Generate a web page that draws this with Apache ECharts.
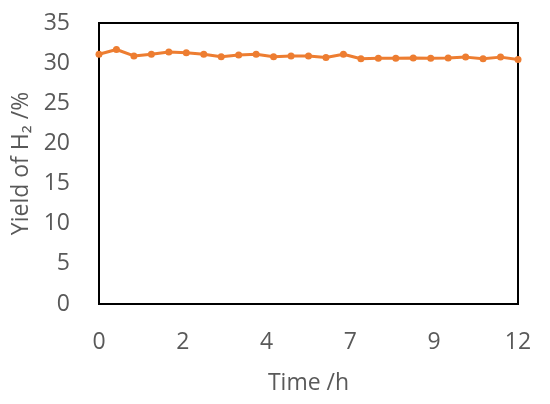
<!DOCTYPE html>
<html>
<head>
<meta charset="utf-8">
<script src="https://cdn.jsdelivr.net/npm/echarts@6/dist/echarts.min.js"></script>
<style>
  html, body { margin: 0; padding: 0; background: #fff; }
  #chart { width: 550px; height: 404px; }
</style>
</head>
<body>
<div id="chart"></div>
<script>
// time in hours, one point every half hour
const hours = [0, 0.5, 1, 1.5, 2, 2.5, 3, 3.5, 4, 4.5, 5, 5.5, 6, 6.5, 7, 7.5, 8, 8.5, 9, 9.5, 10, 10.5, 11, 11.5, 12]
const yieldH2 = [31.1, 31.7, 30.9, 31.1, 31.4, 31.3, 31.1, 30.8, 31.0, 31.1, 30.8, 30.9, 30.9, 30.7, 31.1,
  30.55, 30.6, 30.6, 30.65, 30.6, 30.65, 30.75, 30.55, 30.75, 30.45]
// x tick labels as printed (ticks every 2.4 h, shown without decimals)
const xTickLabels = ['0', '2', '4', '7', '9', '12']
const xTickStep = 2.4

const textColor = '#595959'
const font = '"Open Sans", sans-serif'

const chart = echarts.init(document.getElementById('chart'))
chart.setOption({
  animation: false,
  grid: {
    left: 99,
    right: 32,
    top: 23,
    bottom: 100,
    show: true,
    borderColor: '#000',
    borderWidth: 2
  },
  xAxis: {
    type: 'value',
    min: 0,
    max: 12,
    interval: xTickStep,
    name: 'Time /h',
    nameLocation: 'middle',
    nameGap: 68,
    nameTextStyle: { color: textColor, fontSize: 23, fontFamily: font },
    axisLine: { show: false },
    axisTick: { show: false },
    splitLine: { show: false },
    axisLabel: {
      color: textColor,
      fontSize: 23,
      fontFamily: font,
      margin: 27,
      hideOverlap: false,
      formatter: v => xTickLabels[Math.round(v / xTickStep)]
    }
  },
  yAxis: {
    type: 'value',
    min: 0,
    max: 35,
    interval: 5,
    name: 'Yield of H₂ /%',
    nameLocation: 'middle',
    nameGap: 62,
    nameTextStyle: { color: textColor, fontSize: 23, fontFamily: font },
    axisLine: { show: false },
    axisTick: { show: false },
    splitLine: { show: false },
    axisLabel: { color: textColor, fontSize: 23, fontFamily: font, margin: 29 }
  },
  series: [{
    type: 'line',
    data: hours.map((h, i) => [h, yieldH2[i]]),
    symbol: 'circle',
    symbolSize: 7,
    lineStyle: { color: '#ED7D31', width: 3 },
    itemStyle: { color: '#ED7D31' }
  }]
})
</script>
</body>
</html>
